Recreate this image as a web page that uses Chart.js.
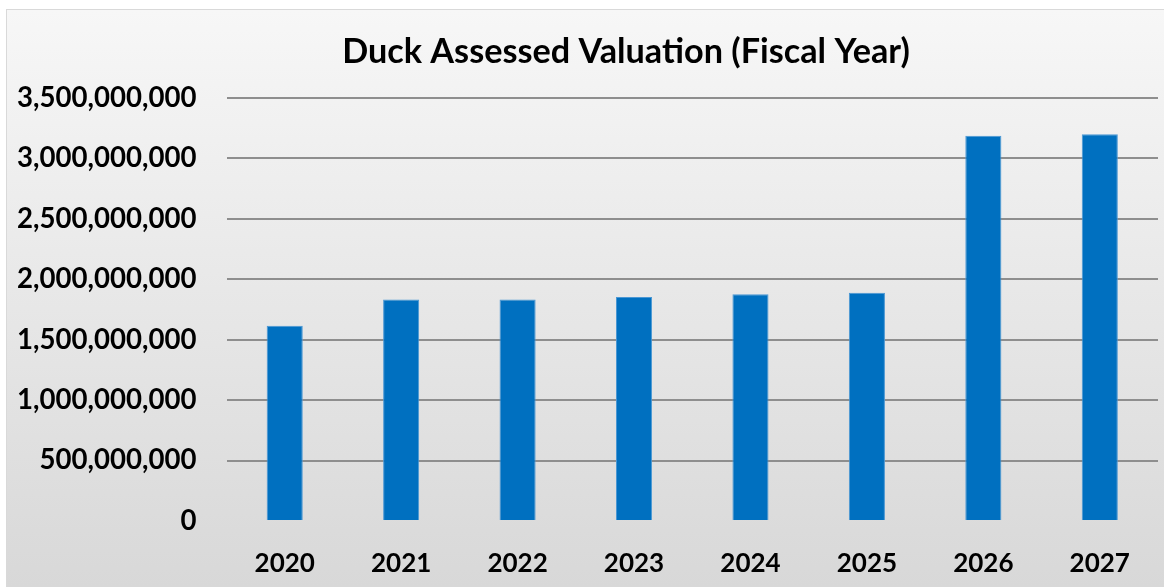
<!DOCTYPE html>
<html>
<head>
<meta charset="utf-8">
<script src="https://cdn.jsdelivr.net/npm/chart.js@4.4.1/dist/chart.umd.min.js"></script>
<style>
  html, body { margin: 0; padding: 0; background: #fff; }
  #box {
    position: absolute; left: 6px; top: 9px; width: 1158px; height: 578px;
    box-sizing: border-box; border: 1px solid #d9d9d9; border-right: none; border-bottom: none;
    background: linear-gradient(to bottom, #f7f7f7 0%, #d8d8d8 100%);
  }
  #wrap { position: absolute; left: 0; top: 0; width: 1157px; height: 577px; }
</style>
</head>
<body>
<div id="box"><div id="wrap"><canvas id="valChart"></canvas></div></div>
<script>
// Fiscal years and assessed valuation
const years = ["2020", "2021", "2022", "2023", "2024", "2025", "2026", "2027"];
const valuation = [1615000000, 1832000000, 1833000000, 1854000000, 1876000000, 1888000000, 3187000000, 3201000000];
const chartTitle = "Duck Assessed Valuation (Fiscal Year)";
const yMax = 3500000000;
const yStep = 500000000;

// title drawn by hand so it can sit where Excel put it
const titlePlugin = {
  id: "titleText",
  afterDraw(chart) {
    const ctx = chart.ctx;
    ctx.save();
    let size = 29;
    ctx.font = `bold ${size}px Lato`;
    const w = ctx.measureText(chartTitle).width;
    size = size * 568 / w;
    ctx.font = `bold ${size}px Lato`;
    ctx.fillStyle = "#000";
    ctx.textAlign = "center";
    ctx.textBaseline = "middle";
    ctx.fillText(chartTitle, 619, 42);
    ctx.restore();
  }
};

const ctx = document.getElementById("valChart");
new Chart(ctx, {
  type: "bar",
  data: {
    labels: years,
    datasets: [{
      data: valuation,
      backgroundColor: "#0070c0",
      borderColor: "#4a97d4",
      borderWidth: 1,
      barPercentage: 0.31,
      categoryPercentage: 1
    }]
  },
  options: {
    responsive: true,
    maintainAspectRatio: false,
    animation: false,
    layout: { padding: { top: 88, right: 6, left: 0, bottom: 0 } },
    plugins: {
      legend: { display: false },
      tooltip: { enabled: false }
    },
    scales: {
      x: {
        grid: { display: false, drawTicks: false },
        border: { display: false },
        ticks: { color: "#000", font: { family: "Lato", weight: "bold", size: 26 }, padding: 27 },
        afterFit(scale) { scale.height = 66; }
      },
      y: {
        min: 0,
        max: yMax,
        border: { display: false },
        grid: {
          drawTicks: false,
          lineWidth: 2,
          color: c => (c.tick && c.tick.value === 0 ? "rgba(0,0,0,0)" : "#8e8e8e")
        },
        ticks: {
          stepSize: yStep,
          color: "#000",
          padding: 30,
          font: { family: "Lato", weight: "bold", size: 27.6 },
          callback: v => v.toLocaleString("en-US")
        },
        afterFit(scale) { scale.width = 219.5; }
      }
    }
  },
  plugins: [titlePlugin]
});
</script>
</body>
</html>
